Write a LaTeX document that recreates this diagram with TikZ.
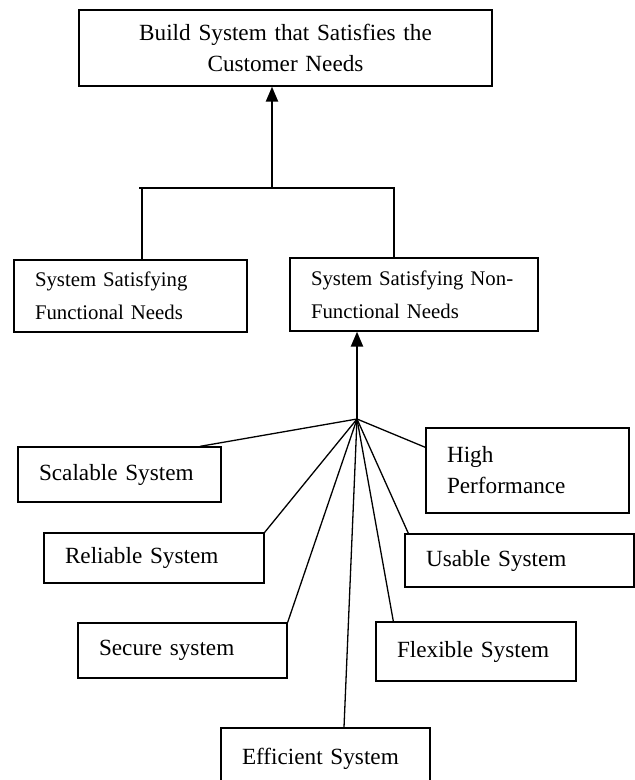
\documentclass[tikz,border=0pt]{standalone}
\usepackage{fontspec}
\setmainfont{Liberation Serif}
\usetikzlibrary{arrows.meta}

\begin{document}
\begin{tikzpicture}[x=1pt, y=-1pt,
           > = {Triangle[width=12pt,length=15pt]},
   box/.style = {draw, line width=1.3pt, inner sep=0pt, align=left,
                 text width=#1, minimum width=#1+42pt,
                 font=\fontsize{23.2}{31}\selectfont},
 small/.style = {font=\fontsize{20.8}{33}\selectfont},
  link/.style = {line width=1.3pt},
 arrow/.style = {line width=2.3pt, ->}
                        ]
\clip (0,0) rectangle (635,780);
% goal and needs
\node[box=371pt, align=center, minimum height=76pt] (goal) at (285.5,48) {Build System that Satisfies the\\Customer Needs};
\node[box=191pt, small, minimum height=72pt] (func) at (130.5,296) {System Satisfying\\Functional Needs};
\node[box=206pt, small, minimum height=73pt] (nonfunc) at (414,294.5) {\mbox{System Satisfying Non-}\\Functional Needs};
% qualities
\node[box=161pt, minimum height=55pt] (scal) at (119.5,474.5) {Scalable System};
\node[box=161pt, minimum height=85pt] (high) at (527.5,470.5) {High\\Performance};
\node[box=178pt, minimum height=50pt] (reli) at (154,558) {Reliable System};
\node[box=187pt, minimum height=53pt] (usab) at (519.5,560.5) {Usable System};
\node[box=167pt, minimum height=55pt] (secu) at (182.5,650.5) {Secure system};
\node[box=158pt, minimum height=59pt] (flex) at (476,651.5) {Flexible System};
\node[box=167pt, minimum height=62pt] (effi) at (325.5,759) {Efficient System};
% joints
\coordinate (barL) at (139,188);
\coordinate (barM) at (272,188);
\coordinate (barR) at (394,188);
\coordinate (hub)  at (357,419);
% connectors
\draw[link] ([xshift=11.5pt]func.north) |- (barL) -- (barR) -- (barR |- nonfunc.north);
\draw[arrow] (barM) -- (barM |- goal.south);
\draw[arrow] (hub) -- (hub |- nonfunc.south);
\draw[link] (hub) -- ([xshift=80.5pt]scal.north);
\draw[link] (hub) -- ([yshift=-20pt]high.north west);
\draw[link] (hub) -- (reli.north east);
\draw[link] (hub) -- ([xshift=4pt]usab.north west);
\draw[link] (hub) -- (secu.north east);
\draw[link] (hub) -- ([xshift=18pt]flex.north west);
\draw[link] (hub) -- ([xshift=18.5pt]effi.north);
\end{tikzpicture}
\end{document}
